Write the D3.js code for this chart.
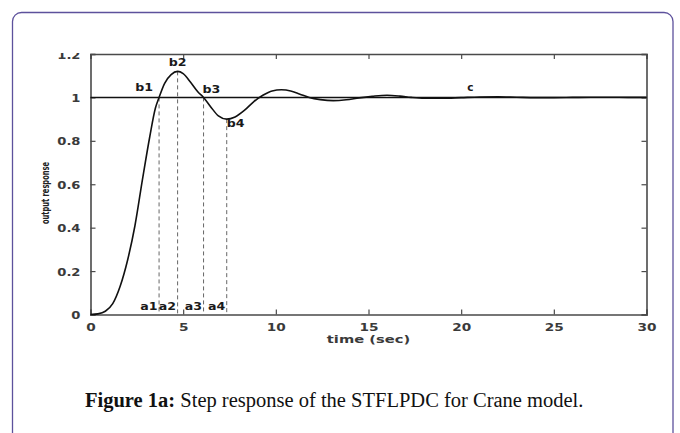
<!DOCTYPE html>
<html>
<head>
<meta charset="utf-8">
<script src="https://cdn.jsdelivr.net/npm/d3@7"></script>
<style>
  html, body { margin: 0; padding: 0; background: #fff; }
  svg { display: block; }
  .tick-text { font-family: "DejaVu Sans", sans-serif; font-size: 10.5px; font-weight: bold; fill: #3a3a3a; }
</style>
</head>
<body>
<svg id="fig" width="680" height="433"></svg>
<script>
// Step response of the controlled crane: time (s) and output
const timeSec = [0, 0.4, 0.8, 1.2, 1.6, 2.0, 2.4, 2.8, 3.2, 3.5, 3.7, 4.0, 4.35, 4.7, 5.0, 5.4, 5.8, 6.1, 6.5, 6.9,
  7.35, 7.8, 8.3, 8.8, 9.3, 9.8, 10.3, 10.8, 11.3, 11.8, 12.4, 13.1, 13.8, 14.5, 15.2, 16.0, 16.7, 17.3, 18.0, 19.0,
  20.0, 21.0, 22.0, 23.0, 24.0, 25.0, 26.0, 27.0, 28.0, 29.0, 30.0];
const outputResponse = [0, 0.003, 0.015, 0.05, 0.13, 0.25, 0.41, 0.62, 0.82, 0.95, 1.0, 1.065, 1.105, 1.12, 1.11, 1.07, 1.025, 1.0, 0.955, 0.915,
  0.9, 0.91, 0.94, 0.98, 1.01, 1.03, 1.035, 1.03, 1.015, 1.0, 0.99, 0.985, 0.989, 0.998, 1.005, 1.01, 1.006, 1.0, 0.996, 0.996,
  0.999, 1.002, 1.003, 1.001, 0.999, 0.999, 1.0, 1.001, 1.001, 1.0, 1.0];

// Characteristic points: crossings, peak and trough
const markTimes = [3.7, 4.7, 6.1, 7.35];
const markValues = [1.0, 1.12, 1.0, 0.9];
const markTopLabels = ["b1", "b2", "b3", "b4"];
const markBottomLabels = ["a1", "a2", "a3", "a4"];
const settleLabel = "c";
const settleTime = 20.5;
const referenceLevel = 1;

const xTicks = [0, 5, 10, 15, 20, 25, 30];
const yTicks = [0, 0.2, 0.4, 0.6, 0.8, 1, 1.2];
const xTitle = "time (sec)";
const yTitle = "output response";
const captionBold = "Figure 1a:";
const captionText = " Step response of the STFLPDC for Crane model.";

const svg = d3.select("#fig");

// Card frame
svg.append("rect")
  .attr("x", 12.5).attr("y", 12.5)
  .attr("width", 660.5).attr("height", 520)
  .attr("rx", 9)
  .attr("fill", "#fff")
  .attr("stroke", "#5d519c")
  .attr("stroke-width", 1.3);

const plot = { left: 90.5, right: 646.5, top: 54, bottom: 314.5 };
const x = d3.scaleLinear().domain([0, 30]).range([plot.left, plot.right]);
const y = d3.scaleLinear().domain([0, 1.2]).range([plot.bottom, plot.top]);

// The chart image is cut off just above the top axis
svg.append("clipPath").attr("id", "chartClip")
  .append("rect").attr("x", 0).attr("y", 53).attr("width", 680).attr("height", 380);
const g = svg.append("g").attr("clip-path", "url(#chartClip)");

// Widen glyphs horizontally like the bitmap plotting font
function widen(sel, k) {
  sel.each(function () {
    const w = this.getComputedTextLength();
    d3.select(this).attr("textLength", w * k).attr("lengthAdjust", "spacingAndGlyphs");
  });
}

// Axes with inward ticks on all four sides
const axisColor = "#4a4a4a";
const axB = g.append("g").attr("transform", `translate(0,${plot.bottom})`)
  .call(d3.axisBottom(x).tickValues(xTicks).tickSize(-5).tickPadding(9).tickFormat(d3.format("d")));
const axT = g.append("g").attr("transform", `translate(0,${plot.top})`)
  .call(d3.axisTop(x).tickValues(xTicks).tickSize(-5).tickFormat(""));
const axL = g.append("g").attr("transform", `translate(${plot.left},0)`)
  .call(d3.axisLeft(y).tickValues(yTicks).tickSize(-5).tickPadding(10).tickFormat(d => d3.format("~g")(d)));
const axR = g.append("g").attr("transform", `translate(${plot.right},0)`)
  .call(d3.axisRight(y).tickValues(yTicks).tickSize(-5).tickFormat(""));

[axB, axT, axL, axR].forEach(a => {
  a.select(".domain").attr("stroke", axisColor).attr("stroke-width", 1.6);
  a.selectAll(".tick line").attr("stroke", axisColor).attr("stroke-width", 1.2);
  a.selectAll(".tick text").attr("class", "tick-text").attr("font-family", null).attr("font-size", null);
});
axB.selectAll(".tick text").call(widen, 1.3);
axL.selectAll(".tick text").attr("dy", "0.38em").call(widen, 1.25);

// Reference level
g.append("line")
  .attr("x1", x(0)).attr("x2", x(30))
  .attr("y1", y(referenceLevel)).attr("y2", y(referenceLevel))
  .attr("stroke", "#111").attr("stroke-width", 1.5);

// Dashed drop lines from the characteristic points
g.selectAll(".drop").data(markTimes).join("line")
  .attr("class", "drop")
  .attr("x1", d => x(d)).attr("x2", d => x(d))
  .attr("y1", (d, i) => y(markValues[i])).attr("y2", y(0))
  .attr("stroke", "#555").attr("stroke-width", 0.9)
  .attr("stroke-dasharray", "4,3");

// Response curve
const line = d3.line()
  .x((d, i) => x(timeSec[i]))
  .y(d => y(d))
  .curve(d3.curveMonotoneX);
g.append("path")
  .datum(outputResponse)
  .attr("d", line)
  .attr("fill", "none")
  .attr("stroke", "#111")
  .attr("stroke-width", 1.6);

// Point labels
const labelFont = { family: "DejaVu Sans, sans-serif", size: "10.5px", fill: "#1a1a1a" };
const topOffsets = [
  { dx: -6, dy: -6, anchor: "end" },
  { dx: 0, dy: -5, anchor: "middle" },
  { dx: -1, dy: -4, anchor: "start" },
  { dx: 0, dy: 8, anchor: "start" }
];
g.selectAll(".blab").data(markTopLabels).join("text")
  .attr("class", "blab")
  .attr("x", (d, i) => x(markTimes[i]) + topOffsets[i].dx)
  .attr("y", (d, i) => y(markValues[i]) + topOffsets[i].dy)
  .attr("text-anchor", (d, i) => topOffsets[i].anchor)
  .attr("font-family", labelFont.family).attr("font-size", labelFont.size)
  .attr("font-weight", "bold").attr("fill", labelFont.fill)
  .text(d => d)
  .call(widen, 1.2);

g.selectAll(".alab").data(markBottomLabels).join("text")
  .attr("class", "alab")
  .attr("x", (d, i) => x(markTimes[i]) - 1.5)
  .attr("y", y(0) - 4.5)
  .attr("text-anchor", "end")
  .attr("font-family", labelFont.family).attr("font-size", labelFont.size)
  .attr("font-weight", "bold").attr("fill", labelFont.fill)
  .text(d => d)
  .call(widen, 1.2);

g.append("text")
  .attr("x", x(settleTime)).attr("y", y(referenceLevel) - 6)
  .attr("text-anchor", "middle")
  .attr("font-family", labelFont.family).attr("font-size", labelFont.size)
  .attr("font-weight", "bold").attr("fill", labelFont.fill)
  .text(settleLabel);

// Axis titles
g.append("text")
  .attr("class", "tick-text")
  .attr("x", (plot.left + plot.right) / 2).attr("y", 343)
  .attr("text-anchor", "middle")
  .text(xTitle)
  .call(widen, 1.4);

g.append("text")
  .attr("transform", "translate(49,193) rotate(-90)")
  .attr("text-anchor", "middle")
  .attr("font-family", "DejaVu Sans Condensed, DejaVu Sans, sans-serif")
  .attr("font-size", "11px")
  .attr("font-weight", "bold")
  .attr("fill", "#222")
  .attr("textLength", 62).attr("lengthAdjust", "spacingAndGlyphs")
  .text(yTitle);

// Caption
const cap = svg.append("text")
  .attr("x", 85).attr("y", 406.5)
  .attr("font-family", "Liberation Serif, Times New Roman, serif")
  .attr("font-size", "20.5px")
  .attr("fill", "#111");
cap.append("tspan").attr("font-weight", "bold").text(captionBold);
cap.append("tspan").text(captionText);
</script>
</body>
</html>
